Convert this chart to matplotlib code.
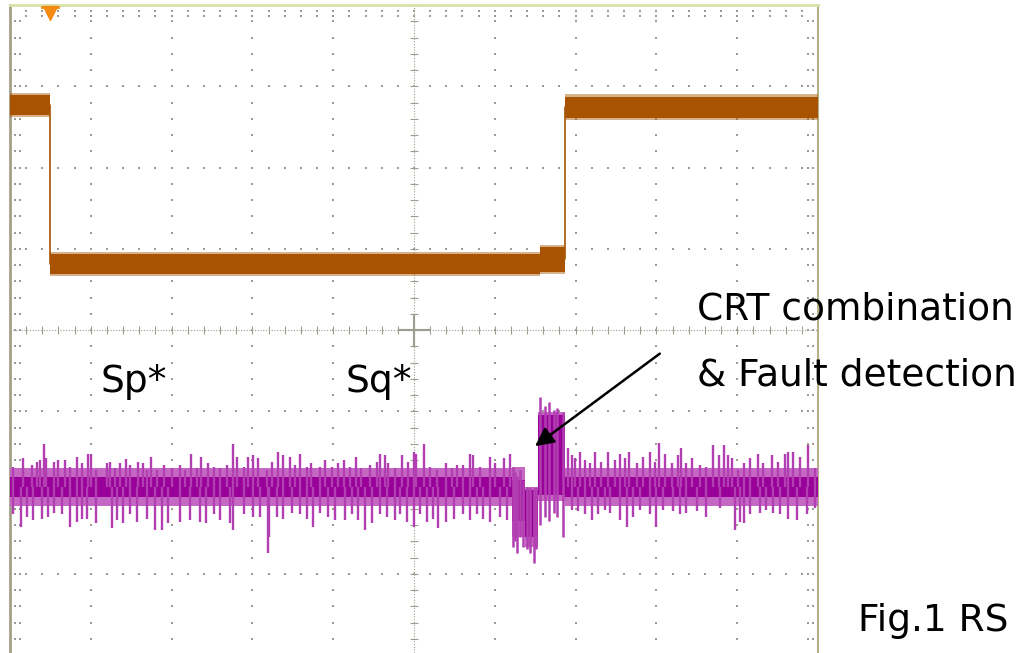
import numpy as np
import matplotlib
matplotlib.use("Agg")
import matplotlib.pyplot as plt

# screen units: time in divisions (0..10), voltage in divisions (-4..4)

# channel 1 (orange) step levels
ch1_t = [0.0, 0.49, 6.56, 6.87, 10.0]
ch1_lvl = [2.77, 0.81, 0.87, 2.74, 2.74]
ch1_hw = [0.12, 0.12, 0.15, 0.13, 0.13]

# channel 2 (purple) baseline envelope, segments
ch2_t = [0.0, 6.21, 6.37, 6.53, 6.87, 10.0]
ch2_top = [-1.70, -1.69, -1.93, -1.01, -1.70, -1.70]
ch2_bot = [-2.17, -2.55, -2.67, -2.10, -2.17, -2.17]
ch2_core_top = [-1.81, -1.85, -1.97, -1.05, -1.81, -1.81]
ch2_core_bot = [-2.05, -2.35, -2.55, -2.03, -2.05, -2.05]
ch2_base = -1.93

# upward noise spikes (time, amplitude above baseline)
up_t = [0.04, 0.165, 0.27, 0.33, 0.37, 0.42, 0.45, 0.54, 0.60, 0.68, 0.74, 0.83,
        0.89, 0.96, 1.00, 1.07, 1.20, 1.24, 1.30, 1.36, 1.44, 1.49, 1.59, 1.64,
        1.69, 1.75, 1.82, 1.90, 2.00, 2.10, 2.17, 2.24, 2.31, 2.37, 2.45, 2.52,
        2.60, 2.68, 2.76, 2.81, 2.89, 2.95, 3.01, 3.07, 3.18, 3.24, 3.32, 3.38,
        3.47, 3.53, 3.59, 3.67, 3.73, 3.84, 3.90, 3.98, 4.06, 4.13, 4.21, 4.28,
        4.35, 4.46, 4.54, 4.58, 4.64, 4.68, 4.76, 4.85, 4.93, 5.00, 5.03, 5.12,
        5.20, 5.28, 5.40, 5.47, 5.53, 5.61, 5.69, 5.73, 5.82, 5.94, 6.00, 6.11,
        6.19, 6.91, 6.95, 6.99, 7.05, 7.12, 7.18, 7.24, 7.32, 7.40, 7.49, 7.55,
        7.61, 7.66, 7.76, 7.84, 7.92, 7.98, 8.03, 8.11, 8.19, 8.27, 8.31, 8.37,
        8.44, 8.54, 8.62, 8.70, 8.77, 8.84, 8.89, 8.93, 9.01, 9.08, 9.16, 9.26,
        9.32, 9.43, 9.51, 9.59, 9.63, 9.69, 9.78, 9.88, 9.96]
up_a = [0.25, 0.35, 0.27, 0.31, 0.33, 0.53, 0.35, 0.31, 0.33, 0.33, 0.25, 0.37,
        0.29, 0.41, 0.41, 0.21, 0.29, 0.31, 0.23, 0.29, 0.34, 0.27, 0.31, 0.29,
        0.21, 0.37, 0.21, 0.27, 0.23, 0.27, 0.21, 0.41, 0.23, 0.37, 0.29, 0.25,
        0.23, 0.27, 0.53, 0.37, 0.25, 0.37, 0.39, 0.35, 0.21, 0.31, 0.43, 0.39,
        0.37, 0.27, 0.41, 0.25, 0.29, 0.25, 0.33, 0.25, 0.29, 0.33, 0.25, 0.37,
        0.23, 0.27, 0.31, 0.41, 0.39, 0.29, 0.23, 0.39, 0.31, 0.43, 0.41, 0.53,
        0.25, 0.21, 0.29, 0.23, 0.27, 0.27, 0.41, 0.39, 0.25, 0.37, 0.29, 0.35,
        0.41, 0.48, 0.39, 0.35, 0.43, 0.33, 0.29, 0.43, 0.31, 0.43, 0.33, 0.41,
        0.35, 0.43, 0.29, 0.37, 0.43, 0.31, 0.54, 0.41, 0.29, 0.39, 0.48, 0.29,
        0.35, 0.27, 0.25, 0.52, 0.39, 0.52, 0.39, 0.35, 0.21, 0.29, 0.35, 0.41,
        0.29, 0.39, 0.31, 0.41, 0.43, 0.43, 0.37, 0.52, 0.23]

# downward noise spikes (time, amplitude below baseline)
dn_t = [0.04, 0.14, 0.21, 0.29, 0.39, 0.47, 0.54, 0.64, 0.74, 0.83, 0.89, 0.95,
        1.07, 1.26, 1.32, 1.40, 1.49, 1.57, 1.69, 1.79, 1.88, 1.96, 2.10, 2.23,
        2.35, 2.43, 2.52, 2.60, 2.72, 2.76, 2.89, 3.01, 3.09, 3.19, 3.21, 3.30,
        3.38, 3.49, 3.59, 3.67, 3.75, 3.84, 3.94, 4.02, 4.14, 4.23, 4.31, 4.39,
        4.48, 4.58, 4.66, 4.76, 4.83, 4.91, 5.00, 5.08, 5.16, 5.24, 5.30, 5.40,
        5.49, 5.61, 5.69, 5.78, 5.86, 5.94, 6.07, 6.15, 6.95, 7.03, 7.12, 7.20,
        7.28, 7.36, 7.43, 7.55, 7.63, 7.71, 7.80, 7.92, 8.00, 8.08, 8.21, 8.29,
        8.37, 8.50, 8.62, 8.79, 8.97, 9.03, 9.08, 9.16, 9.28, 9.36, 9.44, 9.53,
        9.63, 9.74, 9.86, 9.96]
dn_a = [0.34, 0.49, 0.37, 0.41, 0.39, 0.37, 0.32, 0.34, 0.49, 0.43, 0.39, 0.39,
        0.45, 0.51, 0.41, 0.45, 0.34, 0.43, 0.39, 0.53, 0.53, 0.45, 0.43, 0.41,
        0.43, 0.45, 0.34, 0.41, 0.45, 0.53, 0.34, 0.37, 0.37, 0.81, 0.62, 0.37,
        0.39, 0.32, 0.34, 0.39, 0.49, 0.32, 0.37, 0.41, 0.41, 0.34, 0.41, 0.53,
        0.45, 0.34, 0.37, 0.41, 0.34, 0.43, 0.49, 0.34, 0.43, 0.39, 0.51, 0.43,
        0.39, 0.34, 0.41, 0.34, 0.39, 0.43, 0.37, 0.41, 0.28, 0.30, 0.34, 0.41,
        0.34, 0.28, 0.32, 0.41, 0.49, 0.37, 0.28, 0.34, 0.49, 0.28, 0.30, 0.34,
        0.32, 0.30, 0.37, 0.26, 0.53, 0.43, 0.45, 0.34, 0.32, 0.28, 0.32, 0.34,
        0.39, 0.41, 0.34, 0.26]

# spikes inside the fault event (time, low end, high end)
ev_t = [6.22, 6.25, 6.28, 6.31, 6.35, 6.40, 6.44, 6.48, 6.51, 6.56, 6.62, 6.67,
        6.73, 6.77, 6.85]
ev_lo = [-2.67, -2.60, -2.74, -2.55, -2.67, -2.70, -2.74, -2.87, -2.70, -2.40,
         -2.30, -2.35, -2.25, -2.30, -2.55]
ev_hi = [-1.69, -1.75, -1.80, -1.72, -1.85, -1.93, -1.93, -1.95, -1.93, -0.82,
         -0.94, -0.89, -0.98, -0.96, -1.01]

ORANGE = "#a75300"
PURPLE_DARK = "#990099"
PURPLE = "#b23fb2"
PURPLE_LIGHT = "#c468c4"
GRID = "#9c9c90"

fig = plt.figure(figsize=(10.21, 6.53), dpi=100)
ax = fig.add_axes([10 / 1021, 0, 808 / 1021, 648 / 653])
ax.set_xlim(0, 10)
ax.set_ylim(-3.975, 4)
ax.set_xticks([])
ax.set_yticks([])
ax.spines["bottom"].set_visible(False)
ax.spines["left"].set_color("#a39f88")
ax.spines["left"].set_linewidth(2)
ax.spines["top"].set_color("#d9e2a6")
ax.spines["top"].set_linewidth(2)
ax.spines["right"].set_color("#b2b188")
ax.spines["right"].set_linewidth(1.5)

# graticule: dotted major lines
sub_y = np.arange(-4, 4.001, 0.2)
sub_x = np.arange(0, 10.001, 0.2)
for xg in range(1, 10):
    if xg == 5:
        continue
    ax.scatter(np.full(sub_y.size, xg), sub_y, s=2, marker="s", color=GRID, lw=0, zorder=1)
for yg in range(-3, 4):
    if yg == 0:
        continue
    ax.scatter(sub_x, np.full(sub_x.size, yg), s=2, marker="s", color=GRID, lw=0, zorder=1)

# centre axes with minor ticks
ax.axhline(0, color=GRID, lw=0.8, ls=(0, (1, 1.5)), zorder=1)
ax.axvline(5, color=GRID, lw=0.8, ls=(0, (1, 1.5)), zorder=1)
ax.vlines(sub_x, -0.05, 0.05, color=GRID, lw=0.8, zorder=1)
ax.hlines(sub_y, 4.95, 5.05, color=GRID, lw=0.8, zorder=1)
ax.hlines([0.0], 4.8, 5.2, color=GRID, lw=1.5, zorder=1)
ax.vlines([5.0], -0.2, 0.2, color=GRID, lw=1.5, zorder=1)

# edge ticks
for ex in (0.06, 0.12, 9.88, 9.94):
    ax.scatter(np.full(sub_y.size, ex), sub_y, s=2, marker="s", color=GRID, lw=0, zorder=1)
for ey in (3.86, 3.93):
    ax.scatter(sub_x, np.full(sub_x.size, ey), s=2, marker="s", color=GRID, lw=0, zorder=1)

# channel 1
lvl = np.array(ch1_lvl)
hw = np.array(ch1_hw)
ax.fill_between(ch1_t, lvl - hw - 0.03, lvl + hw + 0.03, step="post", color=ORANGE,
                alpha=0.45, lw=0, zorder=3)
ax.fill_between(ch1_t, lvl - hw, lvl + hw, step="post", color=ORANGE, lw=0, zorder=3)
ax.plot(ch1_t, ch1_lvl, drawstyle="steps-post", color=ORANGE, lw=1.2, zorder=3)

# channel 2
ax.fill_between(ch2_t, ch2_bot, ch2_top, step="post", color=PURPLE_LIGHT, lw=0, zorder=3)
ax.fill_between(ch2_t, ch2_core_bot, ch2_core_top, step="post", color=PURPLE_DARK, lw=0, zorder=3)
ax.vlines(up_t, ch2_base, ch2_base + np.array(up_a), color=PURPLE, lw=1.7, zorder=3)
ax.vlines(dn_t, ch2_base - np.array(dn_a), ch2_base, color=PURPLE, lw=1.7, zorder=3)
ax.vlines(ev_t, ev_lo, ev_hi, color=PURPLE, lw=1.8, zorder=3)

# trigger marker
ax.plot([0.5], [3.9], marker="v", ms=10, color="#f38a12", mec="#f38a12", clip_on=False, zorder=5)
ax.plot([0.4, 0.6], [3.97, 3.97], color="#f38a12", lw=2, clip_on=False, zorder=5)

# arrow
ax.annotate("", xy=(6.47, -1.45), xytext=(8.07, -0.27),
            arrowprops=dict(arrowstyle="-|>", color="black", lw=1.8, mutation_scale=28),
            zorder=6)

fs = 27
fig.text(100 / 1021, 1 - 392 / 653, "Sp*", fontsize=fs, va="baseline")
fig.text(345 / 1021, 1 - 392 / 653, "Sq*", fontsize=fs, va="baseline")
fig.text(697 / 1021, 1 - 320 / 653, "CRT combination", fontsize=fs, va="baseline")
fig.text(697 / 1021, 1 - 386 / 653, "& Fault detection", fontsize=fs, va="baseline")
fig.text(858 / 1021, 1 - 631 / 653, "Fig.1 RS", fontsize=fs, va="baseline")

fig.savefig("out.png", dpi=100)
